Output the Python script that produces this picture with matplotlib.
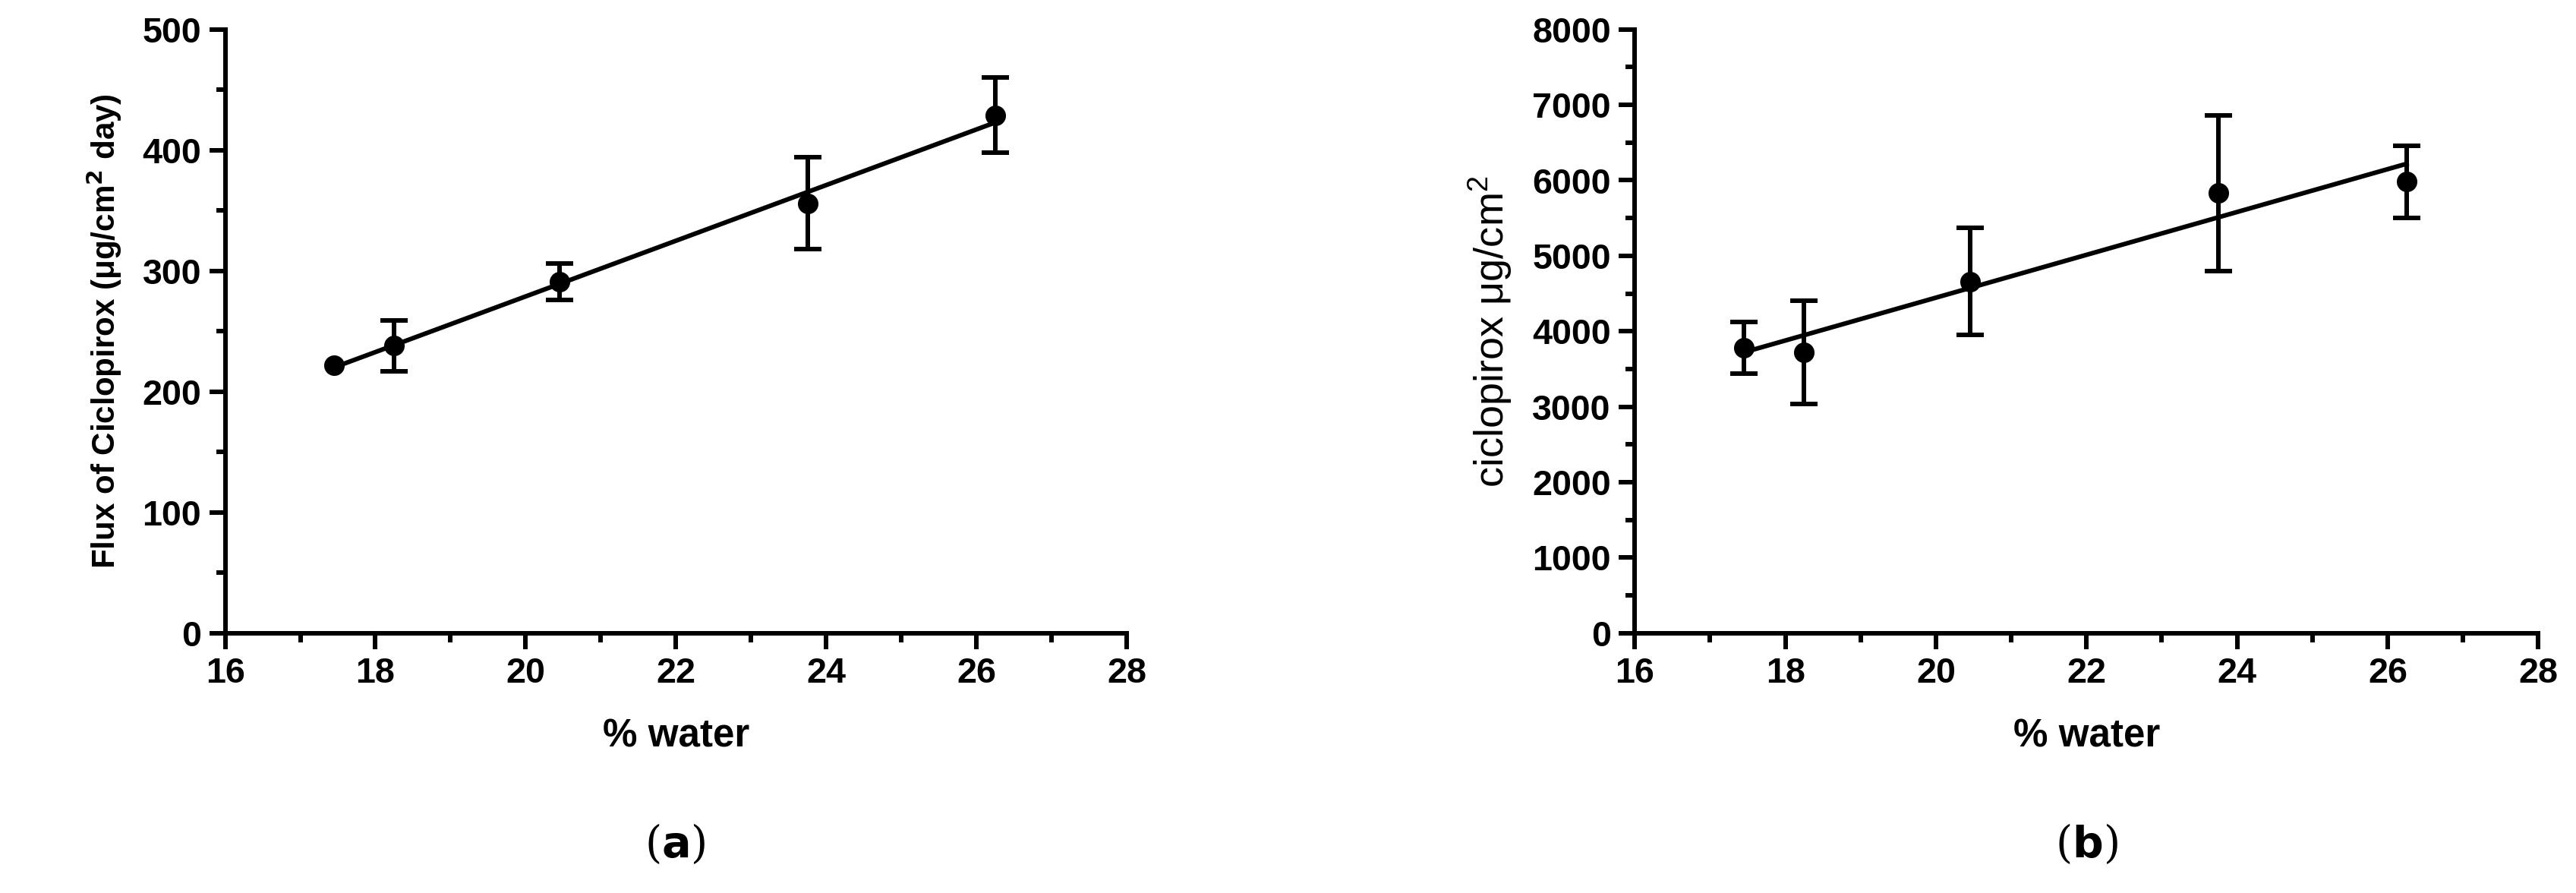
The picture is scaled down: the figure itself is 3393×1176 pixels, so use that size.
import matplotlib
matplotlib.use("Agg")
import matplotlib.pyplot as plt
import numpy as np

water = [17.45, 18.25, 20.45, 23.75, 26.25]
flux = [222, 238, 291, 356, 429]
flux_err = [0, 21, 15, 38, 31]
amount = [3780, 3720, 4660, 5830, 5980]
amount_err = [340, 680, 710, 1030, 480]

plt.rcParams['font.family'] = ['Liberation Sans', 'DejaVu Sans']
plt.rcParams['font.weight'] = 'bold'
fig = plt.figure(figsize=(15.68, 5.435), dpi=216.4)
axA = fig.add_axes([0.0874, 0.291, 0.350, 0.676])
axB = fig.add_axes([0.6346, 0.291, 0.3507, 0.676])

def panel(ax, y, e, ylim, ystep):
    x = np.array(water)
    y = np.array(y); e = np.array(e)
    m = e > 0
    ax.errorbar(x[m], y[m], yerr=e[m], fmt='none', ecolor='black', capsize=6, elinewidth=2, capthick=2)
    ax.plot(x, y, 'o', color='black', ms=8)
    p = np.polyfit(x, y, 1)
    xx = np.array([x.min(), x.max()])
    ax.plot(xx, np.polyval(p, xx), color='black', lw=2)
    ax.set_xlim(16, 28)
    ax.set_ylim(0, ylim)
    ax.set_xticks(range(16, 29, 2))
    ax.set_xticks(range(17, 28, 2), minor=True)
    ax.set_yticks(np.arange(0, ylim + 1, ystep))
    for s in ['top', 'right']:
        ax.spines[s].set_visible(False)
    for s in ['left', 'bottom']:
        ax.spines[s].set_linewidth(2)
    ax.tick_params(width=2, length=7, labelsize=15.5)
    ax.tick_params(which='minor', width=2, length=4)
    ax.set_xlabel('% water', fontsize=17, fontweight='bold', labelpad=12)

panel(axA, flux, flux_err, 500, 100)
axA.set_yticks(np.arange(50, 500, 100), minor=True)
axA.set_ylabel('Flux of Ciclopirox (\u03bcg/cm$^{\\mathbf{2}}$ day)', fontsize=14, fontweight='bold', labelpad=8)
panel(axB, amount, amount_err, 8000, 1000)
axB.set_yticks(np.arange(500, 8000, 1000), minor=True)
axB.set_ylabel('ciclopirox \u03bcg/cm$^{\\mathregular{2}}$', fontsize=18, fontweight='normal', labelpad=8)

fig.text(0.262, 0.04, r'($\mathbf{a}$)', ha='center', fontsize=19, family='DejaVu Serif', fontweight='normal')
fig.text(0.810, 0.04, r'($\mathbf{b}$)', ha='center', fontsize=19, family='DejaVu Serif', fontweight='normal')
fig.savefig('out.png', dpi=216.4)
